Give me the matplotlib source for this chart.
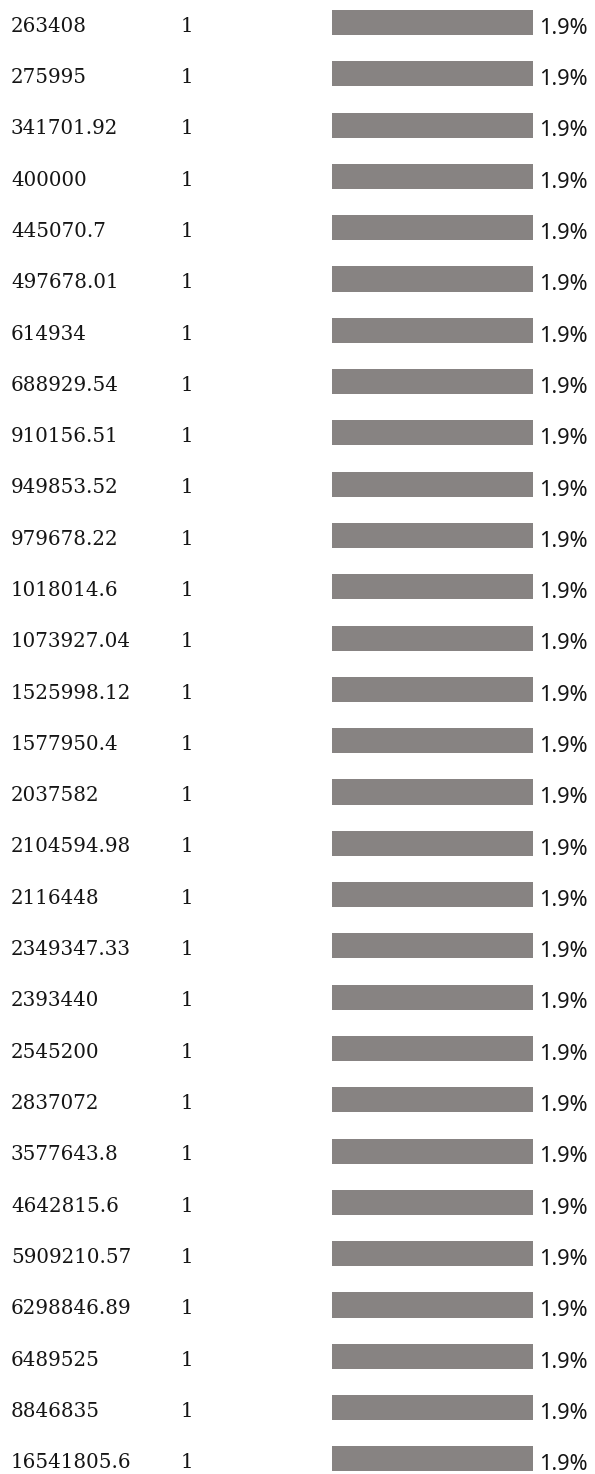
import matplotlib
matplotlib.use("Agg")
import matplotlib.pyplot as plt
from matplotlib.transforms import blended_transform_factory

values = ["263408", "275995", "341701.92", "400000", "445070.7", "497678.01",
          "614934", "688929.54", "910156.51", "949853.52", "979678.22",
          "1018014.6", "1073927.04", "1525998.12", "1577950.4", "2037582",
          "2104594.98", "2116448", "2349347.33", "2393440", "2545200",
          "2837072", "3577643.8", "4642815.6", "5909210.57", "6298846.89",
          "6489525", "8846835", "16541805.6"]
counts = [1] * len(values)
percents = [1.9] * len(values)

W, H = 595, 1474
first_row = 22.5   # px from top, centre of first bar
row_step = 51.3    # px between rows

fig = plt.figure(figsize=(W / 100, H / 100), dpi=100)
ax = fig.add_axes([332 / W, 0, 201 / W, 1])

rows = list(range(len(values)))
ax.barh(rows, percents, height=0.49, color="#878382")
ax.set_xlim(0, max(percents))
ax.set_ylim((H - first_row) / row_step, -first_row / row_step)
ax.axis("off")

tr = blended_transform_factory(fig.transFigure, ax.transData)
serif = dict(family="DejaVu Serif", size=14.3, color="#151515", va="baseline")
for i, (v, c, p) in enumerate(zip(values, counts, percents)):
    ax.text(11 / W, i + 9.2 / row_step, v, transform=tr, **serif)
    ax.text(181 / W, i + 9.2 / row_step, str(c), transform=tr, **serif)
    ax.text(539 / W, i + 11.3 / row_step, f"{p}%", transform=tr,
            family="Noto Sans", size=15.6, color="#151515", va="baseline")

fig.savefig("out.png", dpi=100)
